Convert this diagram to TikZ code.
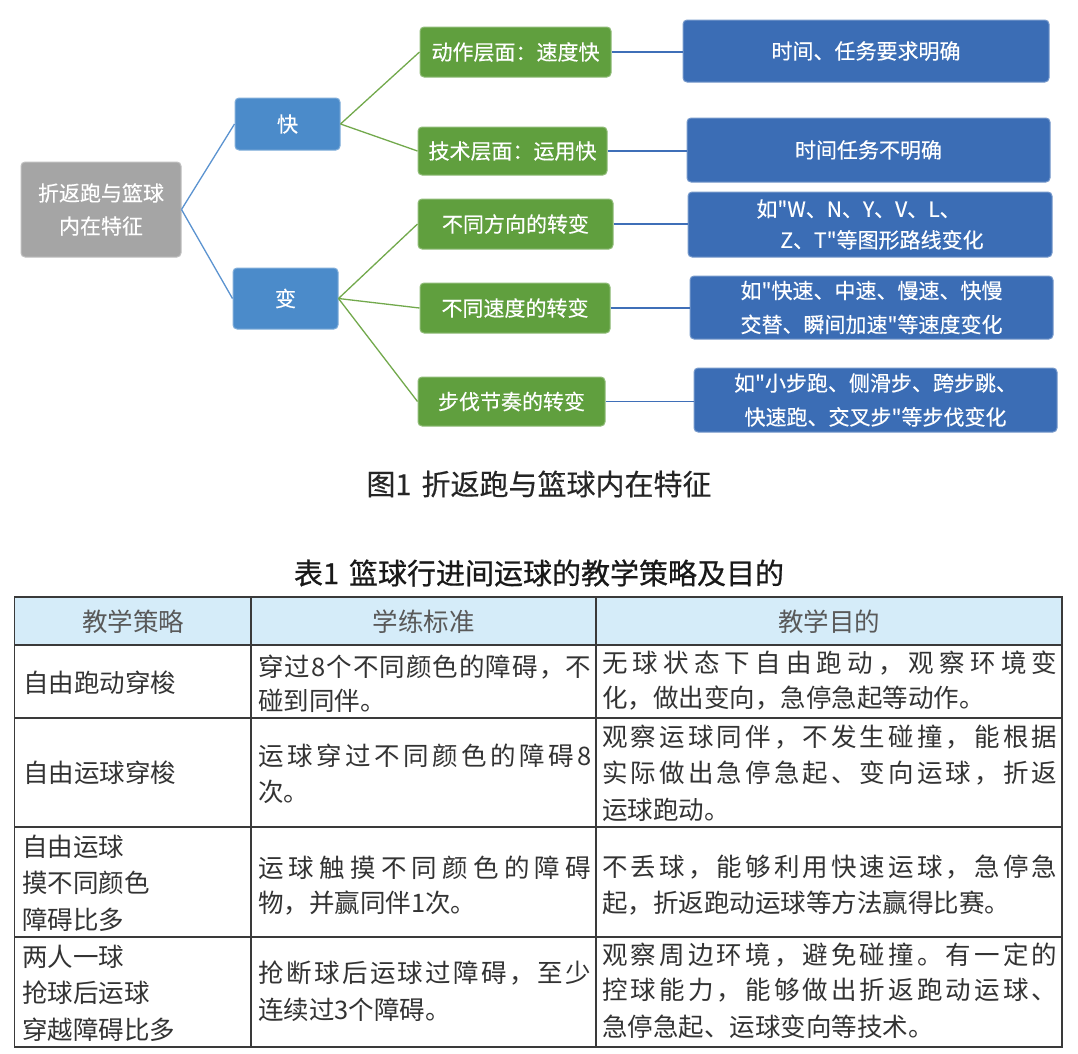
\documentclass[tikz,border=0pt]{standalone}
\usepackage{fontspec}
\newfontfamily\cjk{Noto Sans CJK SC}
\newfontfamily\cjkm{Noto Sans CJK SC}[FakeBold=0.35]
\newfontfamily\cjkb{Noto Sans CJK SC}[FakeBold=0.7]
\definecolor{rootgray}{HTML}{A5A5A5}
\definecolor{midblue}{HTML}{4B8BCA}
\definecolor{leafgreen}{HTML}{609F3E}
\definecolor{darkblue}{HTML}{3B6DB5}
\definecolor{linkblue}{HTML}{5B93D0}
\definecolor{linkgreen}{HTML}{72A94C}
\definecolor{linkdark}{HTML}{3F6FB8}
\definecolor{hdrblue}{HTML}{D5ECF9}
\definecolor{tabline}{HTML}{3A3A3A}
\definecolor{tabtext}{HTML}{333333}
\def\jlA#1{\ifx\relax#1\else\hfil#1\expandafter\jlA\fi}
\def\jlB#1{#1\jlA}
\newcommand\jline[2]{\hbox to #1{\jlB#2\relax}}
\tikzset{
  mbox/.style={rectangle, rounded corners=4pt, inner sep=0pt, align=center, text=white,
    font=\cjkm\fontsize{21}{33}\selectfont, line width=1pt},
  rootbox/.style={mbox, fill=rootgray, draw=rootgray!70!white},
  midbox/.style={mbox, fill=midblue, draw=midblue!70!white},
  greenbox/.style={mbox, fill=leafgreen, draw=leafgreen!70!white},
  darkbox/.style={mbox, fill=darkblue, draw=darkblue!70!white},
  lnkblue/.style={draw=linkblue, line width=1.3pt},
  lnkgreen/.style={draw=linkgreen, line width=1.3pt},
  lnkdark/.style={draw=linkdark, line width=1.3pt},
  captxt/.style={inner sep=0pt, text=black!85, font=\cjkm\fontsize{29}{34}\selectfont},
  tittxt/.style={inner sep=0pt, text=black!90, font=\cjkb\fontsize{29}{34}\selectfont},
  tline/.style={draw=tabline, line width=1.5pt},
  ttxt/.style={inner sep=0pt, anchor=west, text=tabtext, font=\cjk\fontsize{25.5}{36}\selectfont},
  htxt/.style={inner sep=0pt, text=black!65, font=\cjk\fontsize{25.5}{36}\selectfont},
}
\begin{document}
\begin{tikzpicture}[x=1pt,y=-1pt]
\useasboundingbox (0,0) rectangle (1078,1053);
\fill[white] (0,0) rectangle (1078,1053);

% ---------- diagram ----------
\node[rootbox, minimum width=160pt, minimum height=95pt] (root) at (101,209.5) {折返跑与篮球\\内在特征};
\node[midbox, minimum width=105pt, minimum height=52pt] (kuai) at (287.5,124) {快};
\node[midbox, minimum width=105pt, minimum height=61pt] (bian) at (285.5,298.5) {变};

\node[greenbox, minimum width=191pt, minimum height=50pt] (g1) at (515.5,52) {动作层面：速度快};
\node[greenbox, minimum width=189pt, minimum height=48pt] (g2) at (512.5,151) {技术层面：运用快};
\node[greenbox, minimum width=195pt, minimum height=50pt] (g3) at (515.5,224) {不同方向的转变};
\node[greenbox, minimum width=190pt, minimum height=50pt] (g4) at (515,308) {不同速度的转变};
\node[greenbox, minimum width=187pt, minimum height=49pt] (g5) at (511.5,401.5) {步伐节奏的转变};

\node[darkbox, minimum width=366pt, minimum height=62pt] (d1) at (866,51) {时间、任务要求明确};
\node[darkbox, minimum width=363pt, minimum height=64pt] (d2) at (868.5,150) {时间任务不明确};
\node[darkbox, minimum width=364pt, minimum height=65pt, align=left, font=\cjkm\fontsize{21}{31}\selectfont] (d3) at (870,224.5) {如"W、N、Y、V、L、\\\hspace*{24pt}Z、T"等图形路线变化};
\node[darkbox, minimum width=363pt, minimum height=63pt, font=\cjkm\fontsize{21}{34}\selectfont] (d4) at (871.5,307.5) {如"快速、中速、慢速、快慢\\交替、瞬间加速"等速度变化};
\node[darkbox, minimum width=363pt, minimum height=64pt, font=\cjkm\fontsize{21}{34}\selectfont] (d5) at (875.5,400) {如"小步跑、侧滑步、跨步跳、\\快速跑、交叉步"等步伐变化};

\draw[lnkblue] (root.east) -- (kuai.west);
\draw[lnkblue] (root.east) -- (bian.west);
\draw[lnkgreen] (kuai.east) -- (g1.west);
\draw[lnkgreen] (kuai.east) -- (g2.west);
\draw[lnkgreen] (bian.east) -- (g3.west);
\draw[lnkgreen] (bian.east) -- (g4.west);
\draw[lnkgreen] (bian.east) -- (g5.west);
\draw[lnkdark] (g1.east) -- (g1.east -| d1.west);
\draw[lnkdark] (g2.east) -- (g2.east -| d2.west);
\draw[lnkdark] (g3.east) -- (g3.east -| d3.west);
\draw[lnkdark] (g4.east) -- (g4.east -| d4.west);
\draw[lnkdark] (g5.east) -- (g5.east -| d5.west);

\node[captxt] (cap1) at (539,484) {图1\hspace{10pt}折返跑与篮球内在特征};
\node[tittxt] (cap2) at (539,573) {表1\hspace{10pt}篮球行进间运球的教学策略及目的};

% ---------- table ----------
\fill[hdrblue] (14.5,597) rectangle (1062,645);
\draw[tline] (14.5,597) rectangle (1062,1047);
\foreach \yy in {645,718,827,937} \draw[tline] (14.5,\yy) -- (1062,\yy);
\foreach \xx in {251,596} \draw[tline] (\xx,597) -- (\xx,1047);

\node[htxt] (h1) at (133,622) {教学策略};
\node[htxt] (h2) at (423.5,622) {学练标准};
\node[htxt] (h3) at (829,622) {教学目的};

% row 1
\node[ttxt] (a1) at (23,683) {自由跑动穿梭};
\node[ttxt] (b1a) at (258,667) {\jline{333pt}{穿过8个不同颜色的障碍，不}};
\node[ttxt] (b1b) at (258,701) {碰到同伴。};
\node[ttxt] (c1a) at (602,663) {\jline{455pt}{无球状态下自由跑动，观察环境变}};
\node[ttxt] (c1b) at (602,698) {化，做出变向，急停急起等动作。};
% row 2
\node[ttxt] (a2) at (23,773) {自由运球穿梭};
\node[ttxt] (b2a) at (258,756) {\jline{333pt}{运球穿过不同颜色的障碍8}};
\node[ttxt] (b2b) at (258,792) {次。};
\node[ttxt] (c2a) at (602,737) {\jline{455pt}{观察运球同伴，不发生碰撞，能根据}};
\node[ttxt] (c2b) at (602,773) {\jline{455pt}{实际做出急停急起、变向运球，折返}};
\node[ttxt] (c2c) at (602,810) {运球跑动。};
% row 3
\node[ttxt] (a3a) at (22,847) {自由运球};
\node[ttxt] (a3b) at (22,883) {摸不同颜色};
\node[ttxt] (a3c) at (22,920) {障碍比多};
\node[ttxt] (b3a) at (258,868) {\jline{333pt}{运球触摸不同颜色的障碍}};
\node[ttxt] (b3b) at (258,903) {物，并赢同伴1次。};
\node[ttxt] (c3a) at (602,867) {\jline{455pt}{不丢球，能够利用快速运球，急停急}};
\node[ttxt] (c3b) at (602,903) {起，折返跑动运球等方法赢得比赛。};
% row 4
\node[ttxt] (a4a) at (22,957) {两人一球};
\node[ttxt] (a4b) at (22,993) {抢球后运球};
\node[ttxt] (a4c) at (22,1030) {穿越障碍比多};
\node[ttxt] (b4a) at (258,973) {\jline{333pt}{抢断球后运球过障碍，至少}};
\node[ttxt] (b4b) at (258,1010) {连续过3个障碍。};
\node[ttxt] (c4a) at (602,955) {\jline{455pt}{观察周边环境，避免碰撞。有一定的}};
\node[ttxt] (c4b) at (602,990) {\jline{455pt}{控球能力，能够做出折返跑动运球、}};
\node[ttxt] (c4c) at (602,1027) {急停急起、运球变向等技术。};
\end{tikzpicture}
\end{document}
